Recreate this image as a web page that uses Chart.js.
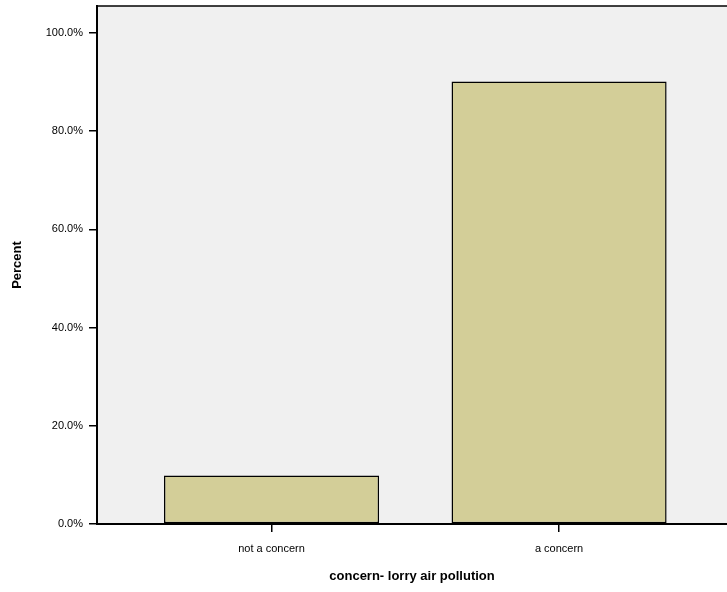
<!DOCTYPE html>
<html>
<head>
<meta charset="utf-8">
<script src="https://cdn.jsdelivr.net/npm/chart.js@4/dist/chart.umd.min.js"></script>
<style>
  html, body { margin: 0; padding: 0; background: #fff; overflow: hidden; }
  #wrap { width: 727px; height: 592px; }
</style>
</head>
<body>
<div id="wrap"><canvas id="ch" width="727" height="592"></canvas></div>
<script>
const categories = ['not a concern', 'a concern'];
const percents = [9.9, 90.1];
const yTicks = [0, 20, 40, 60, 80, 100];

const FONT = 'Liberation Sans, Arial, sans-serif';

// fondo gris del área y línea superior
const plotFrame = {
  id: 'plotFrame',
  beforeDraw(chart) {
    const { ctx, chartArea: a } = chart;
    ctx.save();
    ctx.fillStyle = '#f0f0f0';
    ctx.fillRect(a.left, a.top, a.right - a.left, a.bottom - a.top);
    ctx.strokeStyle = '#000';
    ctx.lineWidth = 1.5;
    ctx.beginPath();
    ctx.moveTo(a.left, a.top);
    ctx.lineTo(a.right, a.top);
    ctx.stroke();
    ctx.restore();
  }
};

new Chart(document.getElementById('ch'), {
  type: 'bar',
  data: {
    datasets: [{
      data: categories.map((c, i) => ({ x: i, y: percents[i] })),
      backgroundColor: '#d3ce98',
      borderColor: '#000',
      borderWidth: 1.5,
      borderSkipped: false,
      categoryPercentage: 1,
      barPercentage: 0.748,
    }],
  },
  options: {
    responsive: false,
    animation: false,
    devicePixelRatio: 1,
    layout: { padding: { top: 6, left: 0, right: 0, bottom: 0 } },
    plugins: { legend: { display: false }, tooltip: { enabled: false } },
    scales: {
      x: {
        type: 'linear',
        offset: false,
        min: -0.607,
        max: 1.584,
        afterBuildTicks: s => { s.ticks = categories.map((c, i) => ({ value: i })); },
        afterFit: s => { s.height = 68; s.paddingLeft = 0; s.paddingRight = 0; },
        grid: { offset: false, drawOnChartArea: false, drawTicks: true, tickLength: 8, color: '#000', lineWidth: 1.5 },
        border: { display: true, color: '#000', width: 2 },
        ticks: {
          color: '#000', font: { family: FONT, size: 11 }, padding: 10,
          maxRotation: 0, autoSkip: false,
          callback: (v, i) => categories[i],
        },
        title: {
          display: true, text: 'concern- lorry air pollution', color: '#000',
          font: { family: FONT, size: 13, weight: 'bold' },
          padding: { top: 8, bottom: 8 },
        },
      },
      y: {
        min: 0,
        max: 105.5,
        afterBuildTicks: s => { s.ticks = yTicks.map(v => ({ value: v })); },
        afterFit: s => { s.width = 97; s.paddingTop = 0; s.paddingBottom = 0; },
        grid: { drawOnChartArea: false, drawTicks: true, tickLength: 8, color: '#000', lineWidth: 1.5 },
        border: { display: true, color: '#000', width: 2 },
        ticks: {
          color: '#000', font: { family: FONT, size: 11 }, padding: 6,
          callback: v => v.toFixed(1) + '%',
        },
        title: {
          display: true, text: 'Percent', color: '#000',
          font: { family: FONT, size: 13, weight: 'bold' },
          padding: { top: 10, bottom: 10 },
        },
      },
    },
  },
  plugins: [plotFrame],
});
</script>
</body>
</html>
